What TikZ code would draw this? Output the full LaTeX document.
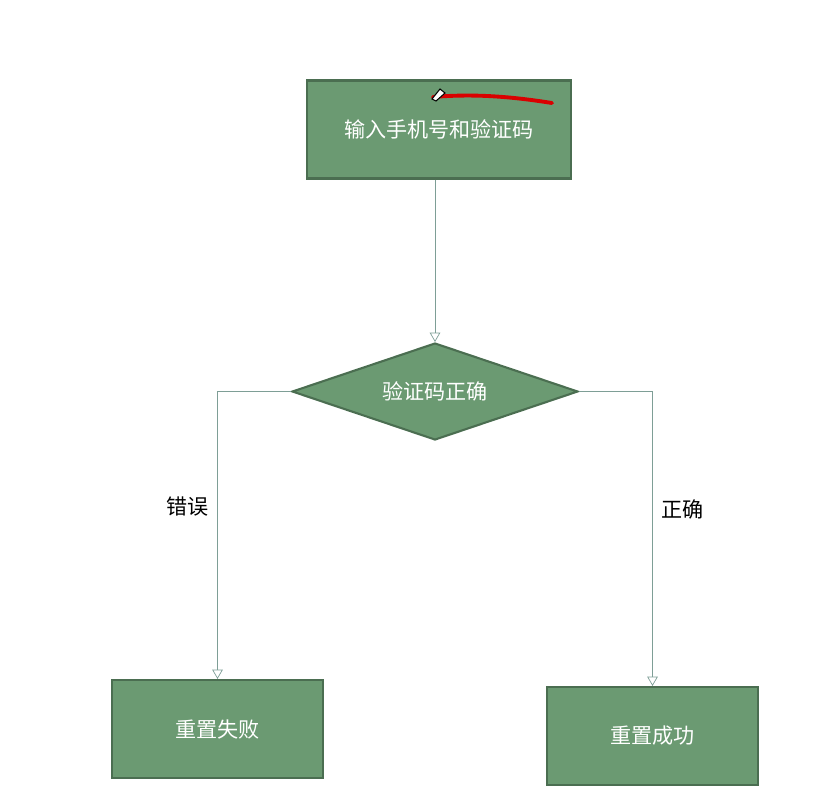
\documentclass[tikz,border=0pt]{standalone}
\usepackage{fontspec}
\newfontfamily\cjk{Noto Sans CJK SC}
\usetikzlibrary{shapes.geometric,arrows,positioning}
\definecolor{boxfill}{HTML}{6B9A72}
\definecolor{boxline}{HTML}{4B6E51}
\definecolor{linkcol}{HTML}{7E9E96}
\begin{document}
\begin{tikzpicture}[x=0.02cm,y=-0.02cm,>=open triangle 60,
    every node/.style={font=\cjk\fontsize{12}{14}\selectfont},
    stepbox/.style={draw=boxline,line width=1.2pt,fill=boxfill,text=white,minimum width=4.22cm,minimum height=1.96cm},
    decision/.style={draw=boxline,line width=1.2pt,fill=boxfill,text=white,diamond,aspect=2.95,minimum width=5.72cm,minimum height=1.94cm,inner sep=0pt},
    link/.style={draw=linkcol,line width=0.4pt,->}]
    \useasboundingbox (0,0) rectangle (830,801);
    \node[stepbox,minimum width=5.28cm] (input) at (439,129.5) {输入手机号和验证码};
    \node[decision] (check) at (435,391.5) {验证码正确};
    \node[stepbox] (fail) at (217.5,729) {重置失败};
    \node[stepbox] (ok) at (652.5,736) {重置成功};
    %
    \draw[link] (input.south -| check.north) -- (check.north);
    \draw[link] (check.west) -| node[pos=0.7,left,text=black,xshift=-0.05cm]{错误} (fail.north);
    \draw[link] (check.east) -| node[pos=0.7,right,text=black,xshift=0.05cm]{正确} (ok.north);
    % red pen mark
    \draw[red!85!black,line width=2.2pt,line cap=round] (433,97) .. controls (480,93) and (520,98) .. (552,103);
    \draw[black,line width=0.6pt,fill=white] (432,99) -- (440,89) -- (445,93) -- (436,101) -- cycle;
\end{tikzpicture}
\end{document}
